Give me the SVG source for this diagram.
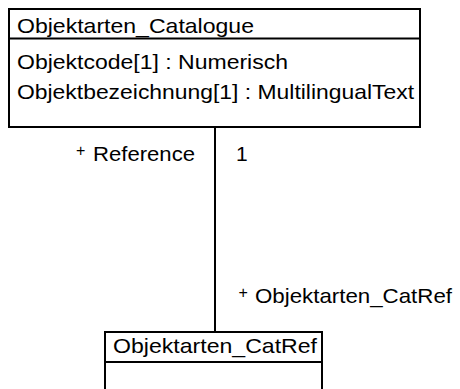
<svg xmlns="http://www.w3.org/2000/svg" width="460" height="389" viewBox="0 0 460 389">
<style>
.box{fill:#fff;stroke:#000;stroke-width:2}
.ln{stroke:#000;stroke-width:2;fill:none}
text{font-family:"Liberation Sans",Arial,sans-serif;font-size:21px;fill:#000}
.plus{font-size:16px}
</style>
<rect width="460" height="389" fill="#fff"/>
<g id="connectors">
<line class="ln" x1="215" y1="127" x2="215" y2="332"/>
<text class="plus" x="76" y="155.5">+</text>
<text x="93" y="161" textLength="102" lengthAdjust="spacingAndGlyphs">Reference</text>
<text x="236" y="161">1</text>
<text class="plus" x="238.5" y="297.5">+</text>
<text x="255" y="303" textLength="197" lengthAdjust="spacingAndGlyphs">Objektarten_CatRef</text>
</g>
<g id="Objektarten_Catalogue">
<rect class="box" x="9" y="9" width="411" height="118"/>
<line class="ln" x1="9" y1="38.5" x2="420" y2="38.5"/>
<text x="17" y="32.5" textLength="237" lengthAdjust="spacingAndGlyphs">Objektarten_Catalogue</text>
<text x="17" y="69" textLength="271" lengthAdjust="spacingAndGlyphs">Objektcode[1] : Numerisch</text>
<text x="17" y="99" textLength="397" lengthAdjust="spacingAndGlyphs">Objektbezeichnung[1] : MultilingualText</text>
</g>
<g id="Objektarten_CatRef">
<rect class="box" x="105" y="332" width="217" height="70"/>
<line class="ln" x1="105" y1="362" x2="322" y2="362"/>
<text x="113" y="353" textLength="204" lengthAdjust="spacingAndGlyphs">Objektarten_CatRef</text>
</g>
</svg>
